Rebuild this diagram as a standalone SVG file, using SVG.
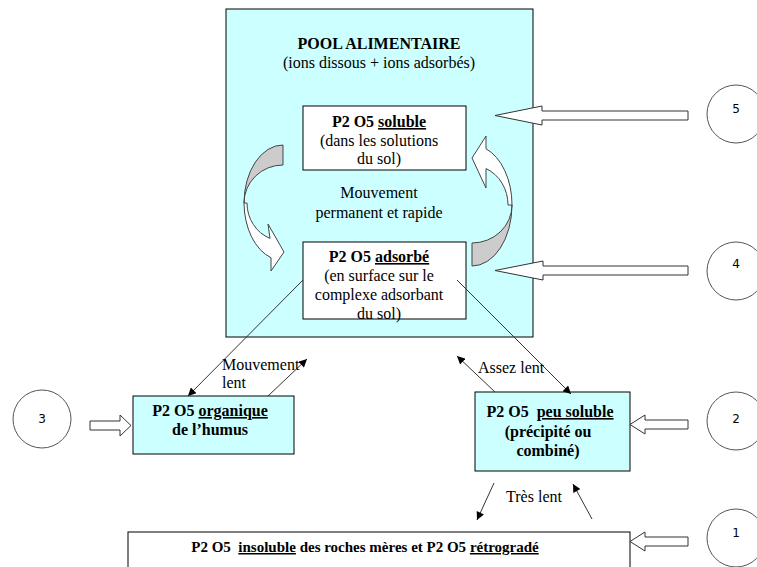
<svg xmlns="http://www.w3.org/2000/svg" width="757" height="567" viewBox="0 0 757 567">
<style>
.box{stroke:#000;stroke-width:1}
.cyan{fill:#ccffff}
.white{fill:#fff}
.t{font-family:"Liberation Serif","Times New Roman",serif;font-size:16px;fill:#000;text-anchor:middle}
.b{font-weight:bold}
.u{text-decoration:underline}
.num{font-family:"DejaVu Sans","Liberation Sans",sans-serif;font-size:12px;fill:#000;text-anchor:middle}
.circ{fill:#fff;stroke:#555;stroke-width:1}
.blk{fill:#fff;stroke:#333;stroke-width:1}
.curg{fill:#cccccc;stroke:#444;stroke-width:1}
.curw{fill:#fff;stroke:#444;stroke-width:1}
.con{stroke:#333;stroke-width:1;fill:none;marker-end:url(#ah)}
</style>
<defs>
<marker id="ah" viewBox="0 0 10 10" refX="10" refY="5" markerWidth="9" markerHeight="8" orient="auto" markerUnits="userSpaceOnUse">
<path d="M0,0 L10,5 L0,10 z" fill="#000"/>
</marker>
</defs>
<rect width="757" height="567" fill="#fff"/>

<g id="pool">
<rect class="box cyan" x="226" y="9" width="307" height="328"/>
<text class="t b" x="379" y="49">POOL ALIMENTAIRE</text>
<text class="t" x="379" y="68">(ions dissous + ions adsorbés)</text>
<text class="t" x="379" y="198">Mouvement</text>
<text class="t" x="379" y="218">permanent et rapide</text>
</g>

<g id="soluble">
<rect class="box white" x="303" y="106" width="163" height="64"/>
<text class="t" x="379" y="127"><tspan class="b">P2 O5 </tspan><tspan class="b u">soluble</tspan></text>
<text class="t" x="379" y="146">(dans les solutions</text>
<text class="t" x="379" y="164">du sol)</text>
</g>

<g id="adsorbe">
<rect class="box white" x="303" y="242" width="163" height="77"/>
<text class="t" x="379" y="262"><tspan class="b">P2 O5 </tspan><tspan class="b u">adsorbé</tspan></text>
<text class="t" x="379" y="281">(en surface sur le</text>
<text class="t" x="379" y="300">complexe adsorbant</text>
<text class="t" x="379" y="319">du sol)</text>
</g>

<g id="cycle-left">
<path class="curg" d="M283,145 A39,58 0 0 0 244,203 A39,38 0 0 1 283,165 Z"/>
<path class="curw" d="M244,203 A39,58 0 0 0 271,257.7 L271,271 L284,252 L268,224 L270,238.4 A36,38 0 0 1 247,203 Z"/>
</g>
<g id="cycle-right">
<path class="curg" d="M472,266 A40,61 0 0 0 512,205 A40,38 0 0 1 472,243 Z"/>
<path class="curw" d="M512,205 A40,60 0 0 0 486,148.8 L486,136 L472,158 L486,188 L486,168.6 A36,39.5 0 0 1 508,205 Z"/>
</g>

<g id="organique">
<rect class="box cyan" x="133" y="396" width="161" height="58"/>
<text class="t b" x="210" y="416">P2 O5 <tspan class="u">organique</tspan></text>
<text class="t b" x="210" y="435">de l’humus</text>
</g>

<g id="peu-soluble">
<rect class="box cyan" x="475" y="392" width="155" height="79"/>
<text class="t b" x="550" y="417" xml:space="preserve">P2 O5  <tspan class="u">peu soluble</tspan></text>
<text class="t b" x="548" y="437">(précipité ou</text>
<text class="t b" x="548" y="456">combiné)</text>
</g>

<g id="insoluble">
<rect class="box white" x="128" y="532" width="502" height="45"/>
<text class="t b" x="365" y="552" style="font-size:15px" xml:space="preserve">P2 O5  <tspan class="u">insoluble</tspan> des roches mères et P2 O5 <tspan class="u">rétrogradé</tspan></text>
</g>

<g id="src5">
<circle class="circ" cx="736" cy="114" r="29"/>
<text class="num" x="736" y="113">5</text>
<polygon class="blk" points="688,111 542,111 542,106 495,115.5 542,125 542,120 688,120"/>
</g>
<g id="src4">
<circle class="circ" cx="736" cy="271" r="29"/>
<text class="num" x="736" y="268">4</text>
<polygon class="blk" points="688,266 543,266 543,261 495,270.5 543,280 543,275 688,275"/>
</g>
<g id="src3">
<circle class="circ" cx="42" cy="419" r="29"/>
<text class="num" x="42" y="423">3</text>
<polygon class="blk" points="90,421 120,421 120,415 131,425.5 120,436 120,430 90,430"/>
</g>
<g id="src2">
<circle class="circ" cx="736" cy="421" r="29"/>
<text class="num" x="736" y="423">2</text>
<polygon class="blk" points="688,420 645,420 645,415 630,424.5 645,434 645,429 688,429"/>
</g>
<g id="src1">
<circle class="circ" cx="736" cy="538" r="29"/>
<text class="num" x="736" y="537">1</text>
<polygon class="blk" points="688,537 645,537 645,532 630,541.5 645,551 645,546 688,546"/>
</g>

<g id="connectors">
<line class="con" x1="303" y1="280" x2="188" y2="396"/>
<line class="con" x1="268" y1="396" x2="307" y2="359"/>
<line class="con" x1="457" y1="280" x2="571" y2="394"/>
<line class="con" x1="495" y1="392" x2="457" y2="356"/>
<line class="con" x1="494" y1="483" x2="477" y2="520"/>
<line class="con" x1="592" y1="519" x2="573" y2="484"/>
<text class="t" x="222" y="370" style="text-anchor:start">Mouvement</text>
<text class="t" x="222" y="388" style="text-anchor:start">lent</text>
<text class="t" x="478" y="373" style="text-anchor:start">Assez lent</text>
<text class="t" x="534" y="502">Très lent</text>
</g>
</svg>
